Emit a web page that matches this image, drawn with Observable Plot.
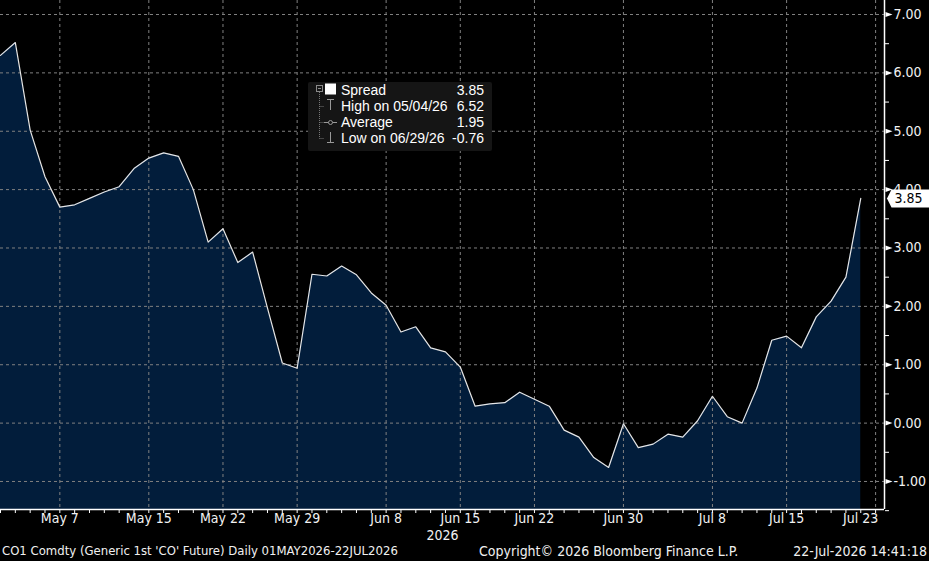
<!DOCTYPE html>
<html><head><meta charset="utf-8">
<script src="https://cdn.jsdelivr.net/npm/d3@7"></script>
<script src="https://cdn.jsdelivr.net/npm/@observablehq/plot@0.6"></script>
<style>
html,body{margin:0;padding:0;background:#000;}
#wrap{position:relative;width:929px;height:561px;overflow:hidden;background:#000;}
#chart svg{display:block;}
#footer{position:relative;width:929px;height:18px;line-height:18px;font:14px "Liberation Sans Narrow","DejaVu Sans Condensed",sans-serif;color:#f0f0f0;white-space:nowrap;}
#footer span{position:absolute;top:0;}
#legend{position:absolute;left:308px;top:82px;width:184px;height:69px;background:#151515;border-radius:2px;font:14px "Liberation Sans",Arial,sans-serif;color:#fff;}
#legend .row{position:absolute;left:33px;right:8px;height:16px;line-height:16px;}
#legend .row .v{position:absolute;right:0;top:0;}
#legend svg{position:absolute;left:0;top:0;}
</style></head><body>
<div id="wrap">
  <div id="chart"></div>
  <div id="legend"></div>
  <div id="footer"></div>
</div>
<script>
// ---- data ----
const startDate = "2026-05-01";
const endDate = "2026-07-23";
const seriesName = "Spread";
const values = [
  6.30, 6.52, 5.02, 4.22, 3.70, 3.74, 3.85, 3.96, 4.05, 4.36,
  4.54, 4.63, 4.57, 4.00, 3.10, 3.33, 2.75, 2.93, 1.97, 1.03,
  0.94, 2.55, 2.52, 2.69, 2.54, 2.23, 2.02, 1.56, 1.65, 1.29,
  1.22, 0.96, 0.29, 0.33, 0.35, 0.53, 0.41, 0.29, -0.12, -0.24,
  -0.59, -0.76, -0.01, -0.42, -0.36, -0.19, -0.24, 0.04, 0.46, 0.11,
  0.00, 0.60, 1.42, 1.49, 1.29, 1.82, 2.09, 2.50, 3.85
];
const tickLabels = ["May 7","May 15","May 22","May 29","Jun 8","Jun 15","Jun 22","Jun 30","Jul 8","Jul 15","Jul 23"];
const tickDates = ["2026-05-07","2026-05-15","2026-05-22","2026-05-29","2026-06-08","2026-06-15","2026-06-22","2026-06-30","2026-07-08","2026-07-15","2026-07-23"];
const yTicks = [-1, 0, 1, 2, 3, 4, 5, 6, 7];
const yMinor = [-1.5, -0.5, 0.5, 1.5, 2.5, 3.5, 4.5, 5.5, 6.5];
const legendRows = [
  {label: "Spread", value: "3.85"},
  {label: "High on 05/04/26", value: "6.52"},
  {label: "Average", value: "1.95"},
  {label: "Low on 06/29/26", value: "-0.76"}
];
const footerLeft = "CO1 Comdty (Generic 1st 'CO' Future) Daily 01MAY2026-22JUL2026";
const footerMid = "Copyright\u00A9 2026 Bloomberg Finance L.P.";
const footerRight = "22-Jul-2026 14:41:18";
const yearLabel = "2026";

// ---- build ----
const fmt = d3.utcFormat("%Y-%m-%d");
const days = d3.utcDay.range(new Date(startDate), d3.utcDay.offset(new Date(endDate), 1))
  .filter(d => d.getUTCDay() % 6 !== 0);
const idx = new Map(days.map((d, i) => [fmt(d), i]));
const data = values.map((v, i) => ({i, date: days[i], v}));
const tickIdx = tickDates.map(d => idx.get(d));
const labelOf = new Map(tickIdx.map((t, k) => [t, tickLabels[k]]));
const allIdx = days.map((d, i) => i);
const yMin = -1.48, yMax = 7.24, xMax = 59.6;
const last = data[data.length - 1];

const narrow = '"Liberation Sans Narrow","DejaVu Sans Condensed",sans-serif';
const txt = "#f2f2f2";

const triSymbol = {draw(ctx) { ctx.moveTo(-3.5, -2.5); ctx.lineTo(3.5, 0); ctx.lineTo(-3.5, 2.5); ctx.closePath(); }};
const tagSymbol = {draw(ctx) { ctx.moveTo(0, 0); ctx.lineTo(4.5, -9); ctx.lineTo(50, -9); ctx.lineTo(50, 9); ctx.lineTo(4.5, 9); ctx.closePath(); }};

const xLabelOpts = {label: null, tickSize: 0, tickPadding: 4, tickFormat: d => labelOf.get(d), fill: txt, fontSize: 14, fontFamily: narrow};

const chart = Plot.plot({
  width: 929,
  height: 543,
  marginTop: 0,
  marginLeft: 0,
  marginRight: 45,
  marginBottom: 34,
  style: {background: "#000", color: txt, fontFamily: narrow, overflow: "visible"},
  x: {type: "linear", domain: [0, xMax], axis: null},
  y: {domain: [yMin, yMax], axis: null},
  marks: [
    Plot.areaY(data, {x: "i", y1: yMin, y2: "v", fill: "#021d3b"}),
    Plot.gridY(yTicks, {stroke: "#808080", strokeOpacity: 1, strokeDasharray: "3,3"}),
    Plot.gridX(tickIdx, {stroke: "#808080", strokeOpacity: 1, strokeDasharray: "3,3"}),
    Plot.lineY(data, {x: "i", y: "v", stroke: "#e6e6e6", strokeWidth: 1.2}),
    Plot.ruleY([yMin], {stroke: "#fff", strokeWidth: 1.5}),
    Plot.ruleX([xMax], {stroke: "#fff", strokeWidth: 1.5}),
    Plot.axisX(allIdx, {label: null, tickSize: 4, tickFormat: () => "", stroke: "#fff", strokeOpacity: 1}),
    Plot.axisX(tickIdx.slice(0, -1), xLabelOpts),
    Plot.axisX(tickIdx.slice(-1), {...xLabelOpts, dx: -15}),
    Plot.axisY(yMinor, {label: null, anchor: "right", tickSize: 4, tickFormat: () => "", stroke: "#fff", strokeOpacity: 1}),
    Plot.axisY(yTicks, {label: null, anchor: "right", tickSize: 0, tickPadding: 9, tickFormat: d => d.toFixed(2), fill: txt, fontSize: 14, fontFamily: narrow}),
    Plot.dot(yTicks, {x: () => xMax, y: d => d, symbol: triSymbol, r: 3, fill: "#fff", stroke: "none", dx: 4.5}),
    Plot.dot([last], {x: () => xMax, y: "v", symbol: tagSymbol, r: 3, fill: "#fff", stroke: "none", dx: 2.5}),
    Plot.text([last], {x: () => xMax, y: "v", text: d => d.v.toFixed(2), dx: 10, textAnchor: "start", fill: "#000", fontSize: 14, fontFamily: narrow}),
    Plot.text([yearLabel], {frameAnchor: "bottom", lineAnchor: "middle", dy: 26, text: d => d, fill: txt, fontSize: 14, fontFamily: narrow})
  ]
});
document.getElementById("chart").appendChild(chart);

// legend
const lg = document.getElementById("legend");
lg.innerHTML = `<svg width="34" height="69">
  <rect x="8.5" y="3.5" width="6" height="6" fill="none" stroke="#8a8a8a"/>
  <line x1="10" y1="6.5" x2="13" y2="6.5" stroke="#8a8a8a"/>
  <rect x="17" y="1.5" width="11" height="11" fill="#fff"/>
  <line x1="11.5" y1="10" x2="11.5" y2="56.5" stroke="#777" stroke-dasharray="1,1"/>
  <line x1="11.5" y1="24.5" x2="16" y2="24.5" stroke="#777" stroke-dasharray="1,1"/>
  <line x1="11.5" y1="40.5" x2="16" y2="40.5" stroke="#777" stroke-dasharray="1,1"/>
  <line x1="11.5" y1="56.5" x2="16" y2="56.5" stroke="#777" stroke-dasharray="1,1"/>
  <line x1="19" y1="17.5" x2="26" y2="17.5" stroke="#999"/>
  <line x1="22.5" y1="17.5" x2="22.5" y2="28" stroke="#999"/>
  <line x1="16" y1="40.5" x2="29" y2="40.5" stroke="#999"/>
  <circle cx="22.5" cy="40.5" r="2" fill="#151515" stroke="#999"/>
  <line x1="22.5" y1="50" x2="22.5" y2="60.5" stroke="#999"/>
  <line x1="19" y1="60.5" x2="26" y2="60.5" stroke="#999"/>
</svg>` + legendRows.map((r, k) =>
  `<div class="row" style="top:${k * 16}px"><span>${r.label}</span><span class="v">${r.value}</span></div>`).join("");

// footer
const ft = document.getElementById("footer");
ft.innerHTML = `<span style="left:2px;font-size:13px">${footerLeft}</span><span style="left:479px">${footerMid}</span><span style="right:2px">${footerRight}</span>`;
</script>
</body></html>
